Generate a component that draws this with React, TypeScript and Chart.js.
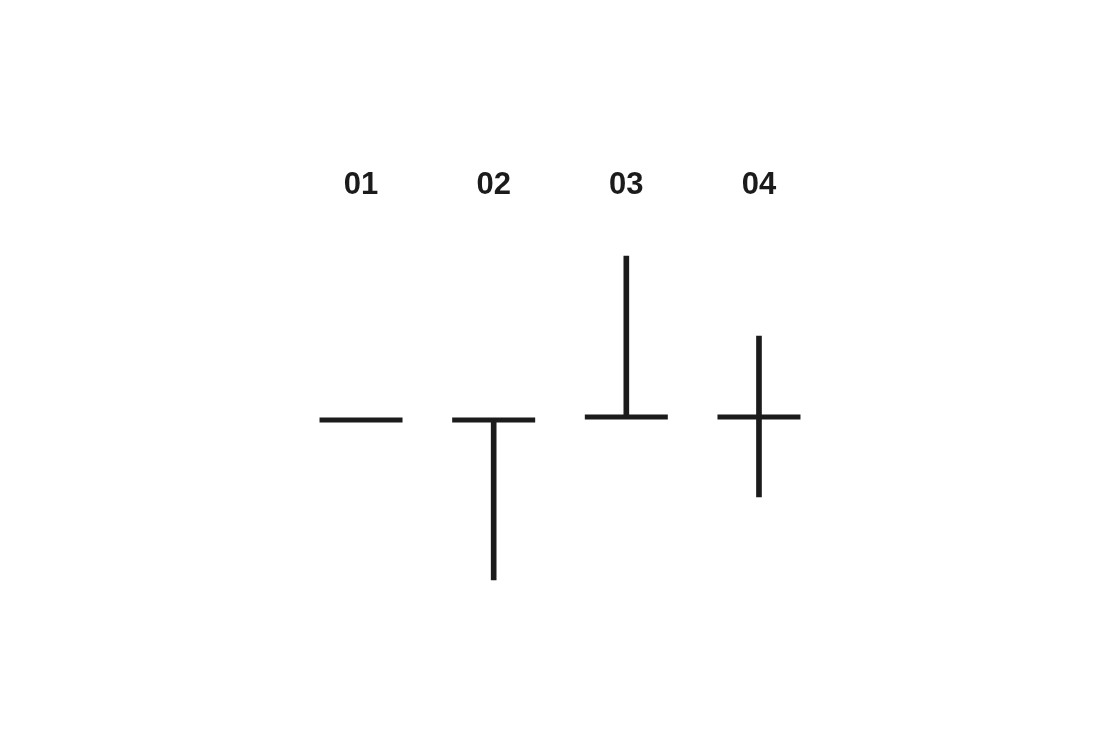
import React, { useEffect, useRef } from "react";
import { Chart, registerables } from "chart.js";

Chart.register(...registerables);

const labels = ["01", "02", "03", "04"];
const openClose = [50, 50, 50.75, 50.75];
const highs = [50, 50, 91, 71];
const lows = [50, 10, 50.75, 30.75];

const INK = "#1b1b1b";

export default function App() {
  const ref = useRef<HTMLCanvasElement | null>(null);
  useEffect(() => {
    if (!ref.current) return;
    const chart = new Chart(ref.current, {
      type: "bar",
      data: {
        labels,
        datasets: [
          {
            type: "bar",
            data: labels.map((_, i) => [lows[i], highs[i]]) as any,
            backgroundColor: INK,
            borderWidth: 0,
            borderSkipped: false,
            barThickness: 5,
            grouped: false,
          },
          {
            type: "line",
            data: openClose,
            showLine: false,
            pointStyle: "line",
            pointRadius: 41.5,
            pointHoverRadius: 41.5,
            pointBorderWidth: 5,
            pointHoverBorderWidth: 5,
            borderColor: INK,
            backgroundColor: INK,
          } as any,
        ],
      },
      options: {
        animation: false,
        responsive: false,
        events: [],
        layout: { padding: { left: 294.7, right: 294.7, top: 0, bottom: 127 } },
        plugins: { legend: { display: false }, tooltip: { enabled: false } },
        scales: {
          x: {
            position: "top",
            offset: true,
            grid: { display: false, drawTicks: false },
            border: { display: false },
            ticks: {
              padding: 16,
              color: INK,
              font: { family: "'Liberation Sans', Arial, sans-serif", size: 31, weight: "bold" },
            },
            afterFit: (axis: any) => {
              axis.height = 220;
            },
          },
          y: { display: false, min: 0, max: 100 },
        },
      },
    });
    return () => chart.destroy();
  }, []);
  return (
    <div style={{ position: "fixed", left: 0, top: 0, width: 1120, height: 747, background: "#fff" }}>
      <canvas ref={ref} width={1120} height={747} style={{ width: 1120, height: 747 }} />
    </div>
  );
}
